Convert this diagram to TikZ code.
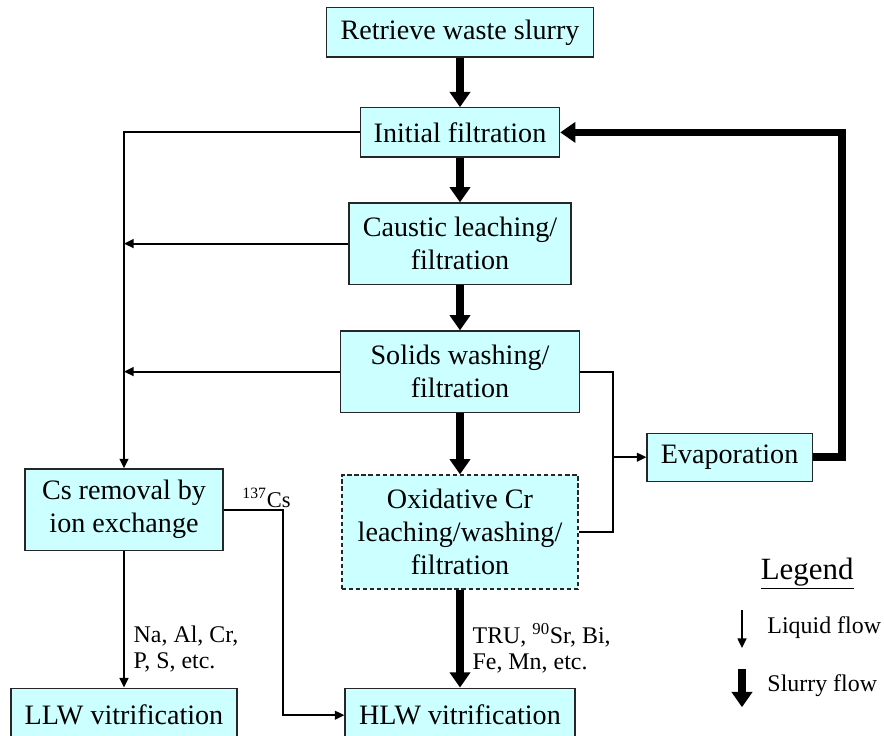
\documentclass[tikz,border=0pt]{standalone}
\usepackage{fontspec}
\setmainfont{Liberation Serif}
\usetikzlibrary{arrows.meta}
\definecolor{boxcyan}{HTML}{CCFFFF}

\begin{document}
\begin{tikzpicture}[liquid/.style={-{Triangle[length=0.24cm,width=0.22cm]}, line width=1.3pt},
            slurry/.style={-{Triangle[length=0.38cm,width=0.5cm]}, line width=5.5pt},
            pipe/.style={line width=1.3pt},
            stage/.style={rectangle, draw=black!85, line width=0.9pt, fill=boxcyan, align=center,
            inner sep=0pt, font=\fontsize{20}{23.5}\selectfont},
            lbl/.style={align=left, inner sep=0pt, font=\fontsize{17}{18.4}\selectfont}]

        \useasboundingbox (0,0) rectangle (22.1,-18.4);

        %cajas del proceso
        \node[stage, minimum width=6.68cm, minimum height=1.23cm] (ret) at (11.5, -0.81) {Retrieve waste slurry};
        \node[stage, minimum width=4.98cm, minimum height=1.23cm] (init) at (11.5, -3.31) {Initial filtration};
        \node[stage, minimum width=5.55cm, minimum height=2.03cm] (caus) at (11.5, -6.09) {Caustic leaching/\\filtration};
        \node[stage, minimum width=5.98cm, minimum height=2.03cm] (sol) at (11.5, -9.29) {Solids washing/\\filtration};
        \node[stage, dash pattern=on 3pt off 2pt, minimum width=5.9cm, minimum height=2.85cm] (oxi) at (11.5, -13.3) {Oxidative Cr\\leaching/washing/\\filtration};
        \node[stage, minimum width=4.13cm, minimum height=1.2cm] (evap) at (18.24, -11.43) {Evaporation};
        \node[stage, minimum width=4.95cm, minimum height=2.03cm] (cs) at (3.1, -12.74) {Cs removal by\\ion exchange};
        \node[stage, minimum width=5.65cm, minimum height=1.35cm] (llw) at (3.1, -17.88) {LLW vitrification};
        \node[stage, minimum width=5.75cm, minimum height=1.35cm] (hlw) at (11.5, -17.88) {HLW vitrification};

        %puntos de quiebre
        \coordinate (csb) at (7.08, -12.74);
        \coordinate (jn) at (15.33, -11.43);
        \coordinate (rtn) at (21.05, -11.43);

        %flujo de lodo
        \draw[slurry] (ret) -- (init);
        \draw[slurry] (init) -- (caus);
        \draw[slurry] (caus) -- (sol);
        \draw[slurry] (sol) -- (oxi);
        \draw[slurry] (oxi) -- node[lbl, pos=0.6, right=0.22cm] {TRU, \textsuperscript{90}Sr, Bi,\\Fe, Mn, etc.} (hlw);
        \draw[slurry] (evap.east) -- (rtn) |- (init.east);

        %flujo de liquido
        \draw[liquid] (init.west) -| (cs.north);
        \draw[liquid] (caus.west) -- (caus.west -| cs.north);
        \draw[liquid] (sol.west) -- (sol.west -| cs.north);
        \draw[liquid] (cs) -- node[lbl, pos=0.72, right=0.22cm] {Na, Al, Cr,\\P, S, etc.} (llw);
        \draw[liquid] (cs.east) -- node[pos=0.72, above, inner sep=1pt, font=\fontsize{16}{18}\selectfont] {\textsuperscript{137}Cs} (csb) |- (hlw.west);
        \draw[pipe] (sol.east) -- (sol.east -| jn) -- (jn |- oxi.east) -- (oxi.east);
        \draw[liquid] (jn) -- (evap.west);

        %leyenda
        \node[font=\fontsize{22}{24}\selectfont] (leg) at (20.18, -14.35) {\underline{Legend}};
        \coordinate (lq1) at (18.55, -15.25);
        \coordinate (lq2) at (18.55, -16.2);
        \coordinate (sl1) at (18.55, -16.73);
        \coordinate (sl2) at (18.55, -17.68);
        \draw[liquid] (lq1) -- (lq2);
        \draw[slurry] (sl1) -- (sl2);
        \node[lbl, anchor=west] (lqt) at (19.18, -15.68) {Liquid flow};
        \node[lbl, anchor=west] (slt) at (19.18, -17.13) {Slurry flow};
    \end{tikzpicture}
\end{document}
